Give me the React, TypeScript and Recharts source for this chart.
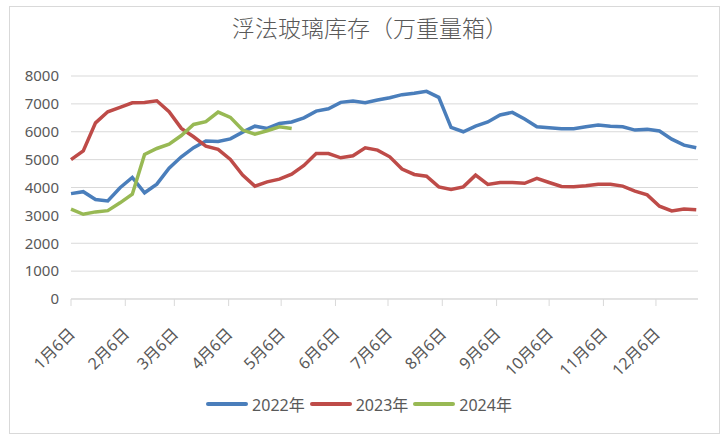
import { LineChart, Line, XAxis, YAxis, CartesianGrid, Legend } from "recharts";

// weekly readings, first one on 1月6日, one per 7 days
const series2022 = [
  3780, 3850, 3570, 3520, 3990, 4360, 3810, 4120, 4690, 5100, 5430, 5670, 5650, 5745, 5985,
  6200, 6120, 6300, 6350, 6500, 6740, 6825, 7055, 7100, 7040, 7137, 7220, 7330, 7378, 7450,
  7234, 6157, 6000, 6200, 6350, 6600, 6695, 6455, 6180, 6145, 6110, 6110, 6180, 6240, 6200,
  6180, 6060, 6085, 6025, 5735, 5520, 5425,
];
const series2023 = [
  5000, 5315, 6320, 6717, 6875, 7040, 7050, 7112, 6717, 6120, 5820, 5485, 5366, 5007, 4443,
  4048, 4203, 4300, 4480, 4790, 5220, 5220, 5065, 5137, 5425, 5340, 5100, 4660, 4468, 4407,
  4023, 3930, 4023, 4443, 4110, 4180, 4180, 4150, 4325, 4180, 4037, 4023, 4060, 4120, 4120,
  4050, 3870, 3735, 3330, 3160, 3230, 3200,
];
const series2024 = [
  3220, 3040, 3125, 3170, 3450, 3760, 5185, 5400, 5555, 5865, 6263, 6360, 6705, 6515, 6060,
  5915, 6035, 6180, 6120,
];

// days after 1月6日 for each month label
const tickDays = [0, 31, 59, 90, 120, 151, 181, 212, 243, 273, 304, 334];
const tickLabels = [
  "1月6日", "2月6日", "3月6日", "4月6日", "5月6日", "6月6日",
  "7月6日", "8月6日", "9月6日", "10月6日", "11月6日", "12月6日",
];
const yTicks = [0, 1000, 2000, 3000, 4000, 5000, 6000, 7000, 8000];

const seriesInfo = [
  { key: "y2022", name: "2022年", color: "#4A7EBB" },
  { key: "y2023", name: "2023年", color: "#BE4B48" },
  { key: "y2024", name: "2024年", color: "#98B954" },
];

const data = series2022.map((v, i) => ({
  day: i * 7,
  y2022: v,
  y2023: series2023[i],
  y2024: i < series2024.length ? series2024[i] : null,
}));

const labelFont = "'Noto Sans', 'Noto Sans CJK SC', sans-serif";

function DateTick({ x, y, payload }: any) {
  const idx = tickDays.indexOf(payload.value);
  return (
    <g transform={`translate(${x + 5},${y + 27})`}>
      <text
        x={0}
        y={0}
        textAnchor="end"
        transform="rotate(-45)"
        fill="#595959"
        fontSize={16}
        fontFamily={labelFont}
      >
        {tickLabels[idx]}
      </text>
    </g>
  );
}

function LegendRow() {
  return (
    <div
      style={{
        display: "flex",
        justifyContent: "center",
        alignItems: "center",
        height: 20,
        paddingLeft: 14,
      }}
    >
      {seriesInfo.map((s) => (
        <div key={s.key} style={{ display: "flex", alignItems: "center", marginRight: 5 }}>
          <div style={{ width: 42, height: 4, borderRadius: 2, background: s.color, marginRight: 4 }} />
          <span style={{ fontSize: 16, color: "#595959", fontFamily: labelFont }}>{s.name}</span>
        </div>
      ))}
    </div>
  );
}

export default function App() {
  return (
    <div style={{ position: "absolute", left: 0, top: 0, width: 728, height: 440, background: "#fff" }}>
      <div
        style={{
          position: "absolute",
          left: 9,
          top: 6,
          width: 709,
          height: 426,
          border: "1px solid #d9d9d9",
        }}
      />
      <div
        style={{
          position: "absolute",
          left: 0,
          top: 10,
          width: 740,
          textAlign: "center",
          fontSize: 23,
          fontWeight: 300,
          color: "#595959",
          fontFamily: "'Noto Sans CJK SC', sans-serif",
        }}
      >
        浮法玻璃库存（万重量箱）
      </div>
      <div style={{ position: "absolute", left: 0, top: 0 }}>
        <LineChart width={728} height={440} data={data} margin={{ top: 76, right: 30, bottom: 26, left: 11 }}>
          <CartesianGrid vertical={false} stroke="#d9d9d9" strokeWidth={1} />
          <XAxis
            dataKey="day"
            type="number"
            domain={[0, 358]}
            ticks={tickDays}
            interval={0}
            tick={<DateTick />}
            height={95}
            axisLine={{ stroke: "#d9d9d9" }}
            tickLine={{ stroke: "#d9d9d9" }}
            tickSize={7}
          />
          <YAxis
            domain={[0, 8000]}
            ticks={yTicks}
            interval={0}
            width={60}
            axisLine={false}
            tickLine={false}
            tickMargin={6}
            tick={{ fill: "#595959", fontSize: 15, fontFamily: labelFont }}
          />
          <Legend verticalAlign="bottom" content={<LegendRow />} />
          {seriesInfo.map((s) => (
            <Line
              key={s.key}
              dataKey={s.key}
              name={s.name}
              stroke={s.color}
              strokeWidth={3.5}
              dot={false}
              type="linear"
              isAnimationActive={false}
              connectNulls={false}
            />
          ))}
        </LineChart>
      </div>
    </div>
  );
}
